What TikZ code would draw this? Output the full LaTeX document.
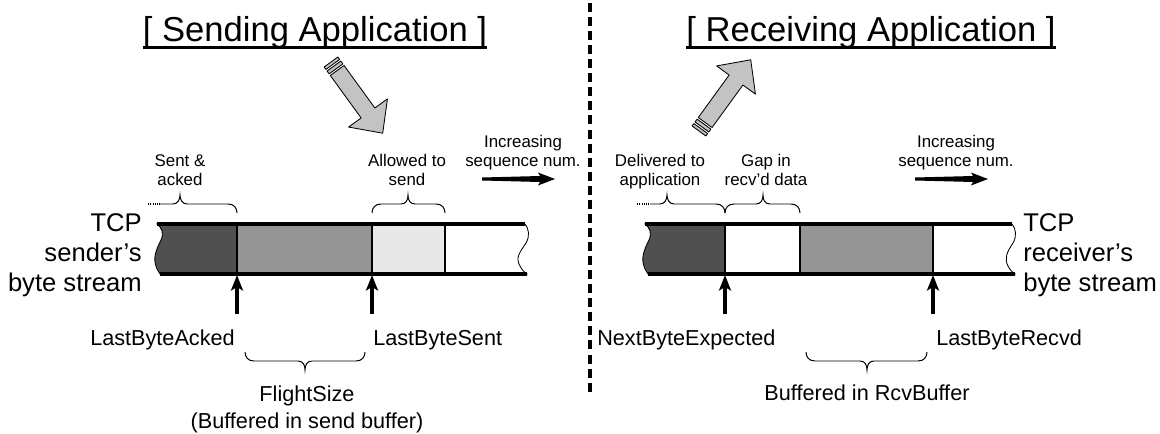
\documentclass[tikz,border=0pt]{standalone}
\usepackage{fontspec}
\setmainfont{Liberation Sans}
\usepackage{tikz}
\usetikzlibrary{arrows.meta}
\definecolor{ackedgray}{HTML}{505050}
\definecolor{flightgray}{HTML}{959595}
\definecolor{allowgray}{HTML}{E8E8E8}
\definecolor{blockgray}{HTML}{C3C3C3}
\tikzstyle{apptitle} = [font=\fontsize{24.6}{29}\selectfont, inner sep=0pt]
\tikzstyle{streamlabel} = [font=\fontsize{18.2}{21.3}\selectfont, inner sep=0pt]
\tikzstyle{ptrlabel} = [font=\fontsize{15.4}{18.5}\selectfont, inner sep=0pt, align=center]
\tikzstyle{smalltext} = [font=\fontsize{12}{13.5}\selectfont, inner sep=0pt, align=center]
\tikzstyle{rail} = [line width=2.5pt]
\tikzstyle{divider} = [line width=1.4pt]
\tikzstyle{thinline} = [line width=0.6pt]
\tikzstyle{curly} = [line width=0.7pt]
\tikzstyle{dots} = [line width=0.8pt, dash pattern=on 0.8pt off 0.8pt]
\tikzstyle{ptr} = [line width=2.4pt, -{Stealth[length=11pt, width=8.5pt, inset=2.5pt]}]
\tikzstyle{blockarrow} = [fill=blockgray, draw=black, line width=0.6pt, line join=round]
\tikzstyle{seqarrow} = [fill=black]
\tikzstyle{splitline} = [line width=2.2pt, dash pattern=on 6.4pt off 3.6pt]
\newcommand{\curlybrace}[5]{%
  \draw[curly, shift={(0,#4)}, #5] (#1,0) .. controls (#1,-5) and ({#1+3},-9) .. ({#1+9},-9)
    -- ({#2-7},-9) .. controls ({#2-2},-9) and (#2,-13) .. (#2,-18)
    .. controls (#2,-13) and ({#2+2},-9) .. ({#2+7},-9)
    -- ({#3-9},-9) .. controls ({#3-3},-9) and (#3,-5) .. (#3,0);}
\newcommand{\appflow}[2]{%
  \begin{scope}[shift={#1}, rotate=#2]
    \filldraw[blockarrow] (0,-8.5) -- (3,-8.5) -- (3,8.5) -- (0,8.5) -- cycle;
    \filldraw[blockarrow] (5,-8.5) -- (8.5,-8.5) -- (8.5,8.5) -- (5,8.5) -- cycle;
    \filldraw[blockarrow] (10.5,-8.5) -- (63,-8.5) -- (63,-24) -- (88,0)
      -- (63,24) -- (63,8.5) -- (10.5,8.5) -- cycle;
  \end{scope}}

\begin{document}
\begin{tikzpicture}[x=0.025cm, y=-0.025cm]
    \useasboundingbox (0,0) rectangle (1160,434);

    \node[apptitle, anchor=base] (sendapp) at (315,41) {[ Sending Application ]};
    \node[apptitle, anchor=base] (recvapp) at (871,41) {[ Receiving Application ]};
    \draw[line width=1.8pt] ([yshift=-4.5pt]sendapp.base west) -- ([yshift=-4.5pt]sendapp.base east);
    \draw[line width=1.8pt] ([yshift=-4.5pt]recvapp.base west) -- ([yshift=-4.5pt]recvapp.base east);

    \coordinate (splitTop) at (590,3);
    \coordinate (splitBot) at (590,394);
    \draw[splitline] (splitTop) -- (splitBot);

    \coordinate (sendTail) at (331,62);
    \coordinate (recvTail) at (699,131);
    \appflow{(sendTail)}{-54}
    \appflow{(recvTail)}{54}

    \filldraw[fill=ackedgray, thinline] (157,224) -- (237,224) -- (237,274) -- (160,274)
      .. controls (159,272) and (157,270) .. (156,266) .. controls (153,258) and (156,250) .. (161,240)
      .. controls (164,233) and (162,228) .. (157,224) -- cycle;
    \fill[flightgray] (237,224) rectangle (372,274);
    \fill[allowgray] (372,224) rectangle (445,274);
    \filldraw[fill=white, thinline] (445,224) -- (525,224)
      .. controls (529,229) and (530,236) .. (526,243) .. controls (520,252) and (515,258) .. (520,266)
      .. controls (522,270) and (525,273) .. (527,274) -- (445,274) -- cycle;
    \draw[divider] (237,224) -- (237,274);
    \draw[divider] (372,224) -- (372,274);
    \draw[divider] (445,224) -- (445,274);
    \draw[rail] (157,224) -- (525,224);
    \draw[rail] (160,274) -- (527,274);

    \filldraw[fill=ackedgray, thinline] (645,224) -- (725,224) -- (725,274) -- (648,274)
      .. controls (647,272) and (645,270) .. (644,266) .. controls (641,258) and (644,250) .. (649,240)
      .. controls (652,233) and (650,228) .. (645,224) -- cycle;
    \fill[flightgray] (800,224) rectangle (933,274);
    \filldraw[fill=white, thinline] (933,224) -- (1012,224)
      .. controls (1016,229) and (1017,236) .. (1013,243) .. controls (1007,252) and (1004,258) .. (1008,266)
      .. controls (1010,270) and (1013,273) .. (1015,274) -- (933,274) -- cycle;
    \draw[divider] (725,224) -- (725,274);
    \draw[divider] (800,224) -- (800,274);
    \draw[divider] (933,224) -- (933,274);
    \draw[rail] (645,224) -- (1012,224);
    \draw[rail] (648,274) -- (1015,274);

    \node[streamlabel, align=right, anchor=base east] (sendstream) at (142,291) {TCP\\sender’s\\byte stream};
    \node[streamlabel, align=left, anchor=base west] (recvstream) at (1023,291) {TCP\\receiver’s\\byte stream};

    \node[smalltext, anchor=base] (sentacked) at (180,185) {Sent \&\\acked};
    \node[smalltext, anchor=base] (allowed) at (407,185) {Allowed to\\send};
    \node[smalltext, anchor=base] (seqsend) at (523,166) {Increasing\\sequence num.};
    \node[smalltext, anchor=base] (delivered) at (660,185) {Delivered to\\application};
    \node[smalltext, anchor=base] (gap) at (766,185) {Gap in\\recv’d data};
    \node[smalltext, anchor=base] (seqrecv) at (956,166) {Increasing\\sequence num.};

    \draw[dots] (148,204) -- (160,204);
    \draw[curly] (160,204) -- (173,204) .. controls (178,204) and (180,199) .. (180,195)
      .. controls (180,199) and (182,204) .. (187,204) -- (228,204)
      .. controls (234,204) and (237,208) .. (237,213);
    \curlybrace{372}{408}{445}{213}{}
    \draw[dots] (637,204) -- (650,204);
    \draw[curly] (650,204) -- (660,204) .. controls (665,204) and (667,199) .. (667,195)
      .. controls (667,199) and (669,204) .. (674,204) -- (716,204)
      .. controls (722,204) and (725,208) .. (725,213);
    \curlybrace{725}{763}{800}{213}{}
    \curlybrace{245}{305}{365}{352}{yscale=-1}
    \curlybrace{806}{867}{927}{352}{yscale=-1}

    \coordinate (seqsendL) at (482,179);
    \coordinate (seqrecvL) at (915,179);
    \fill[seqarrow, shift={(seqsendL)}] (0,-1.5) -- (58,-3) -- (56,-6.5) -- (73,0)
      -- (56,6.5) -- (58,3) -- (0,1.5) -- cycle;
    \fill[seqarrow, shift={(seqrecvL)}] (0,-1.5) -- (58,-3) -- (56,-6.5) -- (73,0)
      -- (56,6.5) -- (58,3) -- (0,1.5) -- cycle;

    \coordinate (ackedTip) at (237,275);
    \coordinate (ackedFoot) at (237,314);
    \coordinate (sentTip) at (372,275);
    \coordinate (sentFoot) at (372,314);
    \coordinate (expTip) at (725,275);
    \coordinate (expFoot) at (725,314);
    \coordinate (recvdTip) at (933,275);
    \coordinate (recvdFoot) at (933,314);
    \draw[ptr] (ackedFoot) -- (ackedTip);
    \draw[ptr] (sentFoot) -- (sentTip);
    \draw[ptr] (expFoot) -- (expTip);
    \draw[ptr] (recvdFoot) -- (recvdTip);

    \node[ptrlabel, anchor=base east] (lastacked) at (235,345) {LastByteAcked};
    \node[ptrlabel, anchor=base west] (lastsent) at (373,345) {LastByteSent};
    \node[ptrlabel, anchor=base west] (nextexp) at (597,345) {NextByteExpected};
    \node[ptrlabel, anchor=base west] (lastrecvd) at (936,345) {LastByteRecvd};
    \node[ptrlabel, anchor=base] (flight) at (307,428) {FlightSize\\(Buffered in send buffer)};
    \node[ptrlabel, anchor=base] (rcvbuf) at (867,400) {Buffered in RcvBuffer};
\end{tikzpicture}
\end{document}
